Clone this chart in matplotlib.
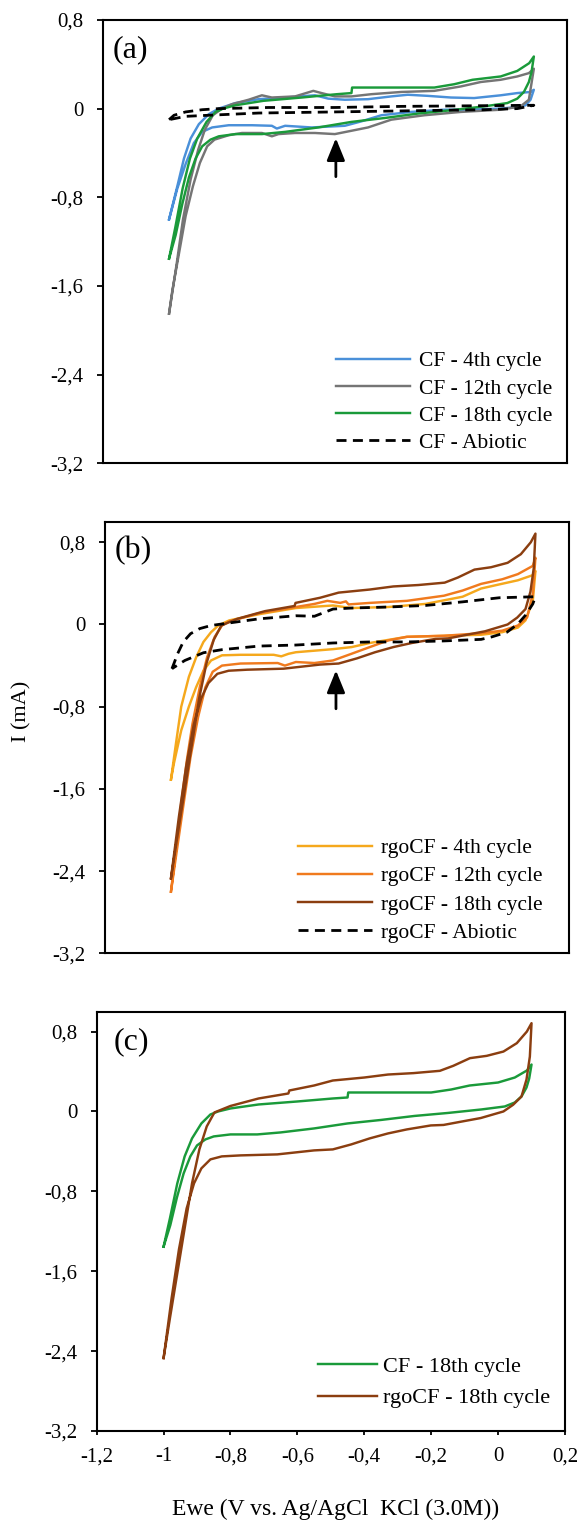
import matplotlib
matplotlib.use('Agg')
import matplotlib.pyplot as plt
from matplotlib.patches import FancyArrowPatch

plt.rcParams['font.family'] = ['Liberation Serif', 'DejaVu Serif']

# ---------------- data (potential V, current mA) ----------------
# Panel (a): CF
cf4_fwd_x = [-1.0, -0.975, -0.955, -0.935, -0.91, -0.88, -0.85, -0.80, -0.73, -0.65, -0.56, -0.52, -0.47,
             -0.40, -0.33, -0.28, -0.22, -0.15, -0.08, 0.0, 0.05, 0.09, 0.10]
cf4_fwd_y = [-1.00, -0.70, -0.45, -0.27, -0.14, -0.05, 0.00, 0.05, 0.085, 0.10, 0.12, 0.09, 0.08,
             0.085, 0.11, 0.125, 0.115, 0.10, 0.095, 0.12, 0.14, 0.15, 0.17]
cf4_rev_x = [0.10, 0.09, 0.075, 0.05, 0.0, -0.10, -0.17, -0.27, -0.36, -0.42, -0.47, -0.57, -0.65, -0.675,
             -0.69, -0.75, -0.82, -0.87, -0.90, -0.925, -0.95, -0.975, -1.0]
cf4_rev_y = [0.17, 0.08, 0.03, 0.015, 0.0, -0.01, -0.01, -0.03, -0.06, -0.115, -0.155, -0.17, -0.155, -0.18,
             -0.155, -0.15, -0.15, -0.17, -0.21, -0.31, -0.50, -0.72, -1.0]

cf12_fwd_x = [-1.0, -0.977, -0.958, -0.935, -0.912, -0.892, -0.868, -0.84, -0.81, -0.76, -0.72, -0.69, -0.62,
              -0.565, -0.54, -0.50, -0.45, -0.39, -0.30, -0.20, -0.12, -0.06, 0.0, 0.05, 0.085, 0.10]
cf12_fwd_y = [-1.85, -1.40, -1.00, -0.64, -0.37, -0.19, -0.06, 0.00, 0.04, 0.08, 0.12, 0.10, 0.11,
              0.16, 0.14, 0.11, 0.11, 0.13, 0.15, 0.16, 0.20, 0.24, 0.26, 0.29, 0.32, 0.36]
cf12_rev_x = [0.10, 0.085, 0.06, 0.0, -0.12, -0.23, -0.33, -0.40, -0.45, -0.50, -0.56, -0.62, -0.67, -0.69,
              -0.72, -0.78, -0.82, -0.863, -0.885, -0.907, -0.928, -0.95, -0.972, -0.99, -1.0]
cf12_rev_y = [0.36, 0.08, 0.02, -0.01, -0.03, -0.06, -0.10, -0.17, -0.20, -0.23, -0.22, -0.22, -0.23, -0.25,
              -0.22, -0.22, -0.24, -0.28, -0.34, -0.49, -0.70, -0.97, -1.34, -1.64, -1.85]

cf18_fwd_x = [-1.0, -0.981, -0.959, -0.937, -0.915, -0.887, -0.86, -0.837, -0.80, -0.716, -0.60, -0.494,
              -0.45, -0.448, -0.33, -0.20, -0.14, -0.085, 0.0, 0.05, 0.086, 0.10]
cf18_fwd_y = [-1.354, -1.07, -0.72, -0.45, -0.27, -0.12, -0.03, 0.0, 0.03, 0.07, 0.10, 0.13,
              0.14, 0.19, 0.19, 0.19, 0.22, 0.26, 0.29, 0.34, 0.41, 0.47]
cf18_rev_x = [0.10, 0.093, 0.085, 0.07, 0.05, 0.02, -0.05, -0.15, -0.25, -0.35, -0.45, -0.55, -0.65, -0.72,
              -0.80, -0.85, -0.875, -0.90, -0.92, -0.94, -0.96, -0.98, -1.0]
cf18_rev_y = [0.47, 0.33, 0.24, 0.15, 0.09, 0.05, 0.02, -0.015, -0.045, -0.085, -0.12, -0.17, -0.21, -0.23,
              -0.23, -0.25, -0.28, -0.34, -0.45, -0.62, -0.86, -1.14, -1.354]

cfab_fwd_x = [-1.0, -0.985, -0.95, -0.90, -0.85, -0.70, -0.50, -0.30, -0.10, 0.10]
cfab_fwd_y = [-0.10, -0.06, -0.03, -0.01, 0.0, 0.01, 0.01, 0.02, 0.025, 0.03]
cfab_rev_x = [0.10, 0.05, -0.05, -0.28, -0.50, -0.73, -0.88, -0.95, -1.0]
cfab_rev_y = [0.02, 0.0, -0.01, -0.02, -0.03, -0.04, -0.06, -0.07, -0.10]

# Panel (b): rgoCF
rgo4_fwd_x = [-1.0, -0.985, -0.969, -0.946, -0.924, -0.902, -0.879, -0.857, -0.824, -0.734, -0.623, -0.511,
              -0.455, -0.344, -0.232, -0.12, -0.064, -0.009, 0.047, 0.092, 0.10]
rgo4_fwd_y = [-1.51, -1.16, -0.80, -0.51, -0.32, -0.17, -0.075, -0.01, 0.04, 0.10, 0.16, 0.185,
              0.16, 0.17, 0.20, 0.27, 0.35, 0.39, 0.43, 0.48, 0.52]
rgo4_rev_x = [0.10, 0.092, 0.07, 0.047, 0.0, -0.064, -0.176, -0.288, -0.344, -0.40, -0.455, -0.511, -0.623,
              -0.645, -0.667, -0.69, -0.79, -0.846, -0.879, -0.902, -0.924, -0.946, -0.969, -0.991, -1.0]
rgo4_rev_y = [0.52, 0.23, 0.04, -0.03, -0.075, -0.10, -0.11, -0.12, -0.15, -0.18, -0.22, -0.24, -0.27,
              -0.285, -0.31, -0.295, -0.295, -0.30, -0.35, -0.45, -0.61, -0.80, -1.03, -1.35, -1.51]

rgo12_fwd_x = [-1.0, -0.985, -0.969, -0.952, -0.935, -0.913, -0.891, -0.868, -0.846, -0.824, -0.734, -0.623,
               -0.567, -0.528, -0.489, -0.472, -0.464, -0.40, -0.288, -0.176, -0.12, -0.064, 0.0, 0.047,
               0.092, 0.10]
rgo12_fwd_y = [-2.60, -2.20, -1.74, -1.32, -0.965, -0.61, -0.32, -0.12, -0.01, 0.03, 0.11, 0.17,
               0.20, 0.23, 0.21, 0.225, 0.195, 0.21, 0.23, 0.28, 0.33, 0.395, 0.44, 0.49,
               0.57, 0.65]
rgo12_rev_x = [0.10, 0.092, 0.075, 0.047, 0.0, -0.064, -0.176, -0.288, -0.344, -0.40, -0.455, -0.511, -0.567,
               -0.623, -0.656, -0.678, -0.79, -0.846, -0.874, -0.896, -0.918, -0.941, -0.963, -0.985, -1.0]
rgo12_rev_y = [0.65, 0.30, 0.07, -0.01, -0.06, -0.085, -0.11, -0.12, -0.155, -0.22, -0.285, -0.35, -0.375,
               -0.365, -0.40, -0.375, -0.38, -0.40, -0.46, -0.61, -0.90, -1.29, -1.77, -2.26, -2.60]

rgo18_fwd_x = [-1.0, -0.981, -0.959, -0.937, -0.915, -0.893, -0.871, -0.848, -0.826, -0.80, -0.716, -0.627,
               -0.624, -0.55, -0.494, -0.40, -0.329, -0.253, -0.174, -0.134, -0.084, -0.034, 0.016, 0.056,
               0.086, 0.10]
rgo18_fwd_y = [-2.47, -2.07, -1.62, -1.17, -0.72, -0.38, -0.15, -0.01, 0.02, 0.055, 0.13, 0.18,
               0.21, 0.26, 0.31, 0.34, 0.37, 0.384, 0.407, 0.457, 0.534, 0.557, 0.60, 0.684,
               0.80, 0.884]
rgo18_rev_x = [0.10, 0.095, 0.085, 0.07, 0.045, 0.016, -0.052, -0.107, -0.163, -0.201, -0.273, -0.329, -0.384,
               -0.439, -0.494, -0.55, -0.66, -0.77, -0.826, -0.86, -0.887, -0.909, -0.931, -0.954, -0.976,
               -1.0]
rgo18_rev_y = [0.884, 0.55, 0.32, 0.15, 0.067, 0.0, -0.066, -0.10, -0.135, -0.14, -0.18, -0.22, -0.27,
               -0.33, -0.38, -0.39, -0.43, -0.44, -0.45, -0.48, -0.57, -0.72, -0.97, -1.38, -1.87,
               -2.47]

rgoab_fwd_x = [-0.997, -0.991, -0.98, -0.963, -0.941, -0.913, -0.879, -0.846, -0.734, -0.623, -0.567, -0.511,
               -0.455, -0.344, -0.232, -0.12, -0.009, 0.10]
rgoab_fwd_y = [-0.43, -0.38, -0.285, -0.17, -0.09, -0.04, -0.01, 0.005, 0.055, 0.085, 0.08, 0.15,
               0.16, 0.17, 0.185, 0.22, 0.26, 0.27]
rgoab_rev_x = [0.10, 0.092, 0.07, 0.047, 0.014, -0.031, -0.064, -0.176, -0.288, -0.40, -0.511, -0.623, -0.734,
               -0.846, -0.902, -0.958, -0.997]
rgoab_rev_y = [0.27, 0.20, 0.09, 0.005, -0.075, -0.12, -0.145, -0.16, -0.17, -0.17, -0.18, -0.20, -0.21,
               -0.245, -0.275, -0.35, -0.43]

labels_a = ['CF - 4th cycle', 'CF - 12th cycle', 'CF - 18th cycle', 'CF - Abiotic']
labels_b = ['rgoCF - 4th cycle', 'rgoCF - 12th cycle', 'rgoCF - 18th cycle', 'rgoCF - Abiotic']
labels_c = ['CF - 18th cycle', 'rgoCF - 18th cycle']

y_ticks = [-3.2, -2.4, -1.6, -0.8, 0.0, 0.8]
y_ticklabels = ['-3,2', '-2,4', '-1,6', '-0,8', '0', '0,8']
x_ticks = [-1.2, -1.0, -0.8, -0.6, -0.4, -0.2, 0.0, 0.2]
x_ticklabels = ['-1,2', '-1', '-0,8', '-0,6', '-0,4', '-0,2', '0', '0,2']

# arrows marking the peak (x, tail y, tip y)
arrow_a = (-0.497, -0.614, -0.267)
arrow_b = (-0.502, -0.82, -0.447)

# ---------------- styles ----------------
C_BLUE = '#4a90d9'
C_GRAY = '#757575'
C_GREEN = '#1a9a3a'
C_YELLOW = '#f5a81c'
C_ORANGE = '#f07a1e'
C_BROWN = '#8b3e10'
LW = 1.75
DASH = (0, (3.6, 2.3))


def loop(fx, fy, rx, ry):
    return list(fx) + list(rx[1:]), list(fy) + list(ry[1:])


fig = plt.figure(figsize=(5.80, 15.21), dpi=100)

ax_a = fig.add_axes([0.1771, 0.6954, 0.8005, 0.2915])
ax_b = fig.add_axes([0.1805, 0.3732, 0.7998, 0.2838])
ax_c = fig.add_axes([0.1667, 0.0592, 0.8074, 0.2757])


def style(ax, ylim, show_x):
    ax.set_xlim(-1.2, 0.2)
    ax.set_ylim(*ylim)
    ax.set_yticks(y_ticks)
    ax.set_yticklabels(y_ticklabels)
    for s in ax.spines.values():
        s.set_linewidth(1.5)
    ax.tick_params(axis='y', direction='out', length=4.3, width=1.3, pad=9.5, labelsize=15)
    if show_x:
        ax.set_xticks(x_ticks)
        ax.set_xticklabels(x_ticklabels)
        ax.tick_params(axis='x', direction='out', length=3.2, width=1.3, pad=8.5, labelsize=15)
    else:
        ax.tick_params(axis='x', bottom=False, labelbottom=False)


# panel a
series_a = [(cf4_fwd_x, cf4_fwd_y, cf4_rev_x, cf4_rev_y, C_BLUE, '-'),
            (cf12_fwd_x, cf12_fwd_y, cf12_rev_x, cf12_rev_y, C_GRAY, '-'),
            (cf18_fwd_x, cf18_fwd_y, cf18_rev_x, cf18_rev_y, C_GREEN, '-'),
            (cfab_fwd_x, cfab_fwd_y, cfab_rev_x, cfab_rev_y, 'black', DASH)]
lines = []
for (fx, fy, rx, ry, col, ls), lab in zip(series_a, labels_a):
    x, y = loop(fx, fy, rx, ry)
    lw = 2.0 if ls != '-' else LW
    ln, = ax_a.plot(x, y, color=col, lw=lw, ls=ls, label=lab, solid_joinstyle='round')
    lines.append(ln)
style(ax_a, (-3.2, 0.8), False)
ax_a.legend(handles=lines, loc='center left', bbox_to_anchor=(0.502, 0.138), frameon=False,
            fontsize=15.5, handlelength=3.45, handletextpad=0.4, labelspacing=0.33,
            borderpad=0, borderaxespad=0)
ax_a.text(0.0215, 0.932, '(a)', transform=ax_a.transAxes, fontsize=23, ha='left', va='center')

# panel b
series_b = [(rgo4_fwd_x, rgo4_fwd_y, rgo4_rev_x, rgo4_rev_y, C_YELLOW, '-'),
            (rgo12_fwd_x, rgo12_fwd_y, rgo12_rev_x, rgo12_rev_y, C_ORANGE, '-'),
            (rgo18_fwd_x, rgo18_fwd_y, rgo18_rev_x, rgo18_rev_y, C_BROWN, '-'),
            (rgoab_fwd_x, rgoab_fwd_y, rgoab_rev_x, rgoab_rev_y, 'black', DASH)]
lines = []
for (fx, fy, rx, ry, col, ls), lab in zip(series_b, labels_b):
    x, y = loop(fx, fy, rx, ry)
    lw = 2.0 if ls != '-' else LW
    ln, = ax_b.plot(x, y, color=col, lw=lw, ls=ls, label=lab, solid_joinstyle='round')
    lines.append(ln)
style(ax_b, (-3.2, 1.0), False)
ax_b.legend(handles=lines, loc='center left', bbox_to_anchor=(0.416, 0.1455), frameon=False,
            fontsize=15.5, handlelength=3.45, handletextpad=0.4, labelspacing=0.38,
            borderpad=0, borderaxespad=0)
ax_b.text(0.0216, 0.934, '(b)', transform=ax_b.transAxes, fontsize=23, ha='left', va='center')

# panel c
series_c = [(cf18_fwd_x, cf18_fwd_y, cf18_rev_x, cf18_rev_y, C_GREEN),
            (rgo18_fwd_x, rgo18_fwd_y, rgo18_rev_x, rgo18_rev_y, C_BROWN)]
lines = []
for (fx, fy, rx, ry, col), lab in zip(series_c, labels_c):
    x, y = loop(fx, fy, rx, ry)
    ln, = ax_c.plot(x, y, color=col, lw=LW, label=lab, solid_joinstyle='round')
    lines.append(ln)
style(ax_c, (-3.2, 1.0), True)
ax_c.legend(handles=lines, loc='center left', bbox_to_anchor=(0.4726, 0.116), frameon=False,
            fontsize=16, handlelength=2.65, handletextpad=0.28, labelspacing=0.5,
            borderpad=0, borderaxespad=0)
ax_c.text(0.037, 0.928, '(c)', transform=ax_c.transAxes, fontsize=23, ha='left', va='center')

# arrows
for ax, (ax_x, tail, tip) in ((ax_a, arrow_a), (ax_b, arrow_b)):
    arr = FancyArrowPatch(posA=(ax_x, tail), posB=(ax_x, tip),
                          arrowstyle='-|>,head_length=1.35,head_width=0.55',
                          mutation_scale=10, lw=2.0, color='black',
                          shrinkA=0, shrinkB=0)
    ax.add_patch(arr)

fig.text(0.038, 0.532, 'I (mA)', rotation=90, fontsize=16, ha='center', va='center')
fig.text(0.578, 0.0075, 'Ewe (V vs. Ag/AgCl  KCl (3.0M))', fontsize=17, ha='center', va='center')

fig.savefig('out.png', dpi=100)
